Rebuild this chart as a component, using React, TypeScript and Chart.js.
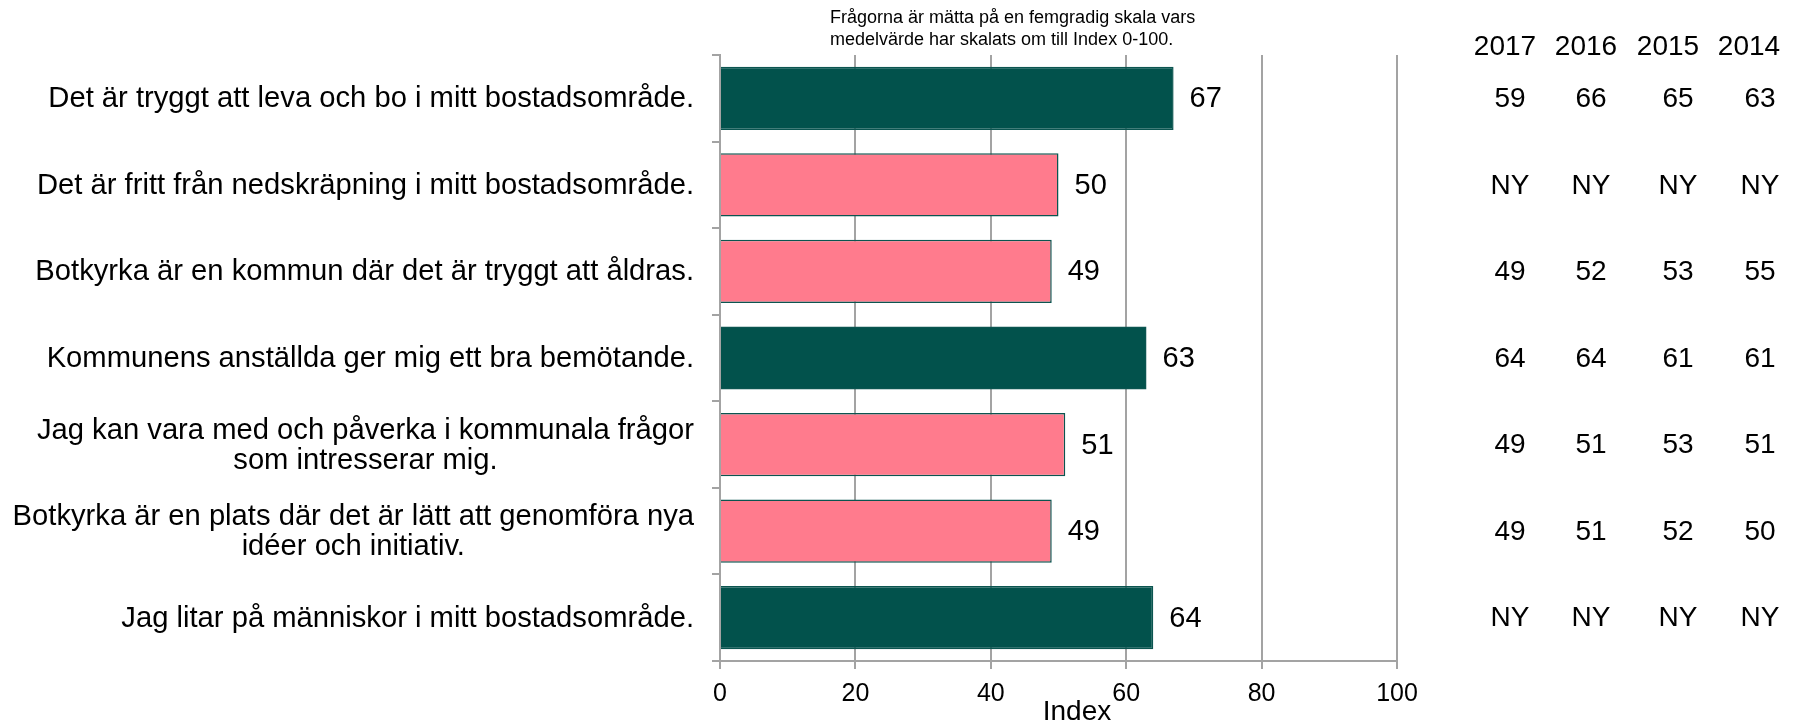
import React, { useEffect, useRef } from "react";
import { Chart, registerables } from "chart.js";

Chart.register(...registerables);

// ---------- data ----------
const categories: string[][] = [
  ["Det är tryggt att leva och bo i mitt bostadsområde."],
  ["Det är fritt från nedskräpning i mitt bostadsområde."],
  ["Botkyrka är en kommun där det är tryggt att åldras."],
  ["Kommunens anställda ger mig ett bra bemötande."],
  ["Jag kan vara med och påverka i kommunala frågor", "som intresserar mig."],
  ["Botkyrka är en plats där det är lätt att genomföra nya", "idéer och initiativ."],
  ["Jag litar på människor i mitt bostadsområde."],
];
const indexValues = [67, 50, 49, 63, 51, 49, 64];
const barColors = ["#02524C", "#FF7B8D", "#FF7B8D", "#02524C", "#FF7B8D", "#FF7B8D", "#02524C"];

const tableYears = ["2017", "2016", "2015", "2014"];
const values2017 = ["59", "NY", "49", "64", "49", "49", "NY"];
const values2016 = ["66", "NY", "52", "64", "51", "51", "NY"];
const values2015 = ["65", "NY", "53", "61", "53", "52", "NY"];
const values2014 = ["63", "NY", "55", "61", "51", "50", "NY"];
const tableColumns = [values2017, values2016, values2015, values2014];

const xTicks = [0, 20, 40, 60, 80, 100];
const noteLines = [
  "Frågorna är mätta på en femgradig skala vars",
  "medelvärde har skalats om till Index 0-100.",
];
const axisTitle = "Index";

// ---------- styling ----------
const FONT = '"Liberation Sans", Arial, Helvetica, sans-serif';
const GRID = "#a3a3a3";
const W = 1801;
const H = 723;
const colCenters = [1510, 1591, 1678, 1760];
const headCenters = [1505, 1586, 1668, 1749];

const overlay = {
  id: "overlay",
  afterDraw(chart: any) {
    const ctx: CanvasRenderingContext2D = chart.ctx;
    const xs = chart.scales.x;
    const ys = chart.scales.y;
    ctx.save();
    ctx.fillStyle = "#000";

    // category labels
    ctx.font = `29.2px ${FONT}`;
    ctx.textBaseline = "middle";
    const right = xs.left - 26;
    categories.forEach((lines, i) => {
      const cy = ys.getPixelForValue(i);
      const lh = 30;
      const maxW = Math.max(...lines.map((l) => ctx.measureText(l).width));
      lines.forEach((l, j) => {
        const ly = cy + (j - (lines.length - 1) / 2) * lh + 1;
        if (lines.length === 1) {
          ctx.textAlign = "right";
          ctx.fillText(l, right, ly);
        } else {
          ctx.textAlign = "center";
          ctx.fillText(l, right - maxW / 2, ly);
        }
      });
    });

    // data labels
    ctx.font = `29px ${FONT}`;
    ctx.textAlign = "left";
    indexValues.forEach((v, i) => {
      ctx.fillText(String(v), xs.getPixelForValue(v) + 16, ys.getPixelForValue(i) + 1);
    });

    // table
    ctx.font = `28px ${FONT}`;
    ctx.textAlign = "center";
    ctx.textBaseline = "alphabetic";
    tableYears.forEach((yr, c) => {
      ctx.fillText(yr, headCenters[c], ys.top);
    });
    ctx.textBaseline = "middle";
    tableColumns.forEach((col, c) => {
      col.forEach((v, i) => {
        ctx.fillText(v, colCenters[c], ys.getPixelForValue(i) + 1);
      });
    });

    // note
    ctx.font = `18px ${FONT}`;
    ctx.textAlign = "left";
    ctx.textBaseline = "alphabetic";
    noteLines.forEach((l, j) => ctx.fillText(l, 830, 23 + j * 22));

    // axis title
    ctx.font = `28px ${FONT}`;
    ctx.textAlign = "center";
    ctx.fillText(axisTitle, 1077, 720);

    ctx.restore();
  },
};

export default function App() {
  const ref = useRef<HTMLCanvasElement | null>(null);
  useEffect(() => {
    if (!ref.current) return;
    const chart = new Chart(ref.current, {
      type: "bar",
      data: {
        labels: categories.map((c) => c.join(" ")),
        datasets: [
          {
            data: indexValues,
            backgroundColor: barColors,
            borderColor: "#0B5550",
            borderWidth: 1.5,
            categoryPercentage: 1,
            barPercentage: 0.73,
          },
        ],
      },
      options: {
        indexAxis: "y",
        responsive: false,
        animation: false,
        layout: { padding: { top: 55, right: W - 1397, left: 0, bottom: 0 } },
        plugins: { legend: { display: false }, tooltip: { enabled: false } },
        scales: {
          x: {
            min: 0,
            max: 100,
            afterBuildTicks: (s: any) => {
              s.ticks = xTicks.map((v) => ({ value: v }));
            },
            afterFit: (s: any) => {
              s.height = H - 661;
            },
            ticks: {
              color: "#000",
              font: { family: FONT, size: 25 },
              padding: 10,
              maxRotation: 0,
            },
            grid: { color: GRID, lineWidth: 2, tickLength: 8, drawTicks: true },
            border: { display: true, color: GRID, width: 2 },
          },
          y: {
            afterFit: (s: any) => {
              s.width = 720;
            },
            ticks: { display: false },
            grid: {
              drawOnChartArea: false,
              drawTicks: true,
              tickLength: 8,
              color: GRID,
              lineWidth: 2,
              offset: true,
            },
            border: { display: true, color: GRID, width: 2 },
          },
        },
      },
      plugins: [overlay],
    });
    return () => chart.destroy();
  }, []);
  return (
    <div style={{ position: "absolute", left: 0, top: 0, width: W, height: H, background: "#fff" }}>
      <canvas ref={ref} width={W} height={H} style={{ display: "block" }} />
    </div>
  );
}
